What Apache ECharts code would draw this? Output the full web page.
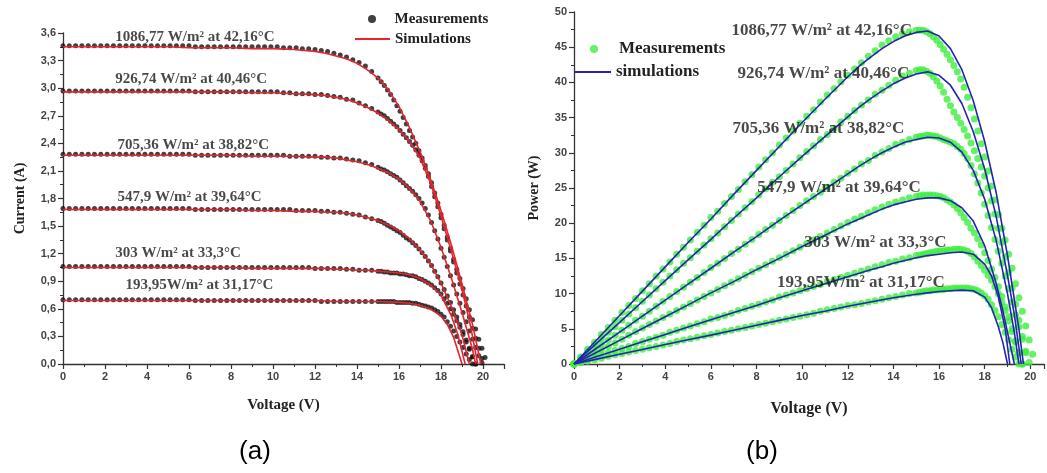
<!DOCTYPE html>
<html>
<head>
<meta charset="utf-8">
<script src="https://cdn.jsdelivr.net/npm/echarts@6/dist/echarts.min.js"></script>
<style>html,body{margin:0;padding:0;background:#fff}#c{width:1047px;height:473px}</style>
</head>
<body>
<div id="c"></div>
<script>
// ---------------- DATA ----------------
// Measurement voltage grid (V), shared by all measured curves
const VOLTAGE = [
  0,0.3,0.6,0.9,1.2,1.5,1.8,2.1,2.4,2.7,
  3,3.3,3.6,3.9,4.2,4.5,4.8,5.1,5.4,5.7,
  6,6.3,6.6,6.9,7.2,7.5,7.8,8.1,8.4,8.7,
  9,9.3,9.6,9.9,10.2,10.5,10.8,11.1,11.4,11.7,
  12,12.3,12.6,12.9,13.2,13.5,13.8,14.1,14.4,14.7,
  15,15.15,15.3,15.45,15.6,15.75,15.9,16.05,16.2,16.35,
  16.5,16.65,16.8,16.95,17.1,17.25,17.4,17.55,17.7,17.85,
  18,18.15,18.3,18.45,18.6,18.75,18.9,19.05,19.2,19.35,
  19.5,19.65,19.8,19.95,20.1,20.25
];

const CURVE_NAMES = [
  '1086,77 W/m² at 42,16°C',
  '926,74 W/m² at 40,46°C',
  '705,36 W/m² at 38,82°C',
  '547,9 W/m² at 39,64°C',
  '303 W/m² at 33,3°C',
  '193,95W/m² at 31,17°C'
];

// (a) measured current (A) on the VOLTAGE grid
const I_MEAS_1086 = [
  3.46,3.46,3.46,3.46,3.46,3.46,3.46,3.46,3.46,3.46,
  3.46,3.46,3.46,3.46,3.46,3.46,3.46,3.46,3.46,3.46,
  3.46,3.45,3.45,3.45,3.45,3.45,3.45,3.45,3.45,3.45,
  3.45,3.45,3.45,3.45,3.45,3.44,3.44,3.44,3.43,3.43,
  3.42,3.41,3.40,3.38,3.36,3.34,3.31,3.28,3.24,3.18,
  3.11,3.07,3.03,2.98,2.93,2.87,2.81,2.75,2.68,2.61,
  2.54,2.47,2.40,2.32,2.24,2.16,2.07,1.97,1.86,1.75,
  1.63,1.51,1.38,1.26,1.14,1.03,0.93,0.82,0.71,0.59,
  0.48,0.38,0.27,0.17,0.07
];
const I_MEAS_926 = [
  2.97,2.97,2.97,2.97,2.97,2.97,2.97,2.97,2.97,2.97,
  2.97,2.97,2.97,2.97,2.97,2.97,2.97,2.97,2.97,2.97,
  2.97,2.96,2.96,2.96,2.96,2.96,2.96,2.96,2.96,2.96,
  2.96,2.96,2.96,2.96,2.96,2.95,2.95,2.94,2.94,2.94,
  2.93,2.93,2.92,2.91,2.90,2.88,2.87,2.84,2.81,2.78,
  2.74,2.72,2.70,2.67,2.64,2.61,2.58,2.54,2.50,2.46,
  2.42,2.38,2.33,2.27,2.21,2.13,2.04,1.93,1.82,1.71,
  1.59,1.47,1.35,1.23,1.11,0.99,0.87,0.75,0.63,0.51,
  0.39,0.28,0.17,0.06
];
const I_MEAS_705 = [
  2.28,2.28,2.28,2.28,2.28,2.28,2.28,2.28,2.28,2.28,
  2.28,2.28,2.28,2.28,2.28,2.28,2.28,2.28,2.28,2.28,
  2.28,2.27,2.27,2.27,2.27,2.27,2.27,2.27,2.27,2.27,
  2.27,2.27,2.27,2.27,2.27,2.27,2.26,2.26,2.26,2.26,
  2.26,2.25,2.25,2.24,2.24,2.23,2.22,2.21,2.19,2.17,
  2.14,2.12,2.11,2.09,2.07,2.05,2.03,2.00,1.97,1.94,
  1.91,1.88,1.84,1.80,1.75,1.69,1.62,1.54,1.45,1.36,
  1.26,1.16,1.06,0.96,0.86,0.76,0.66,0.56,0.46,0.36,
  0.27,0.18,0.09,0.01
];
const I_MEAS_548 = [
  1.69,1.69,1.69,1.69,1.69,1.69,1.69,1.69,1.69,1.69,
  1.69,1.69,1.69,1.69,1.69,1.69,1.69,1.69,1.69,1.69,
  1.69,1.68,1.68,1.68,1.68,1.68,1.68,1.68,1.68,1.68,
  1.68,1.68,1.68,1.68,1.68,1.68,1.68,1.67,1.67,1.67,
  1.67,1.66,1.66,1.65,1.65,1.64,1.63,1.62,1.60,1.58,
  1.56,1.55,1.53,1.51,1.49,1.47,1.45,1.43,1.40,1.37,
  1.35,1.32,1.29,1.25,1.21,1.17,1.12,1.07,1.01,0.95,
  0.88,0.81,0.74,0.67,0.59,0.51,0.43,0.35,0.26,0.17,
  0.08,0
];
const I_MEAS_303 = [
  1.06,1.06,1.06,1.06,1.06,1.06,1.06,1.06,1.06,1.06,
  1.06,1.06,1.06,1.06,1.06,1.06,1.06,1.06,1.06,1.06,
  1.06,1.05,1.05,1.05,1.05,1.05,1.05,1.05,1.05,1.05,
  1.05,1.05,1.05,1.05,1.05,1.05,1.05,1.05,1.05,1.05,
  1.04,1.04,1.04,1.04,1.04,1.03,1.03,1.02,1.02,1.02,
  1.01,1.01,1.00,1.00,0.99,0.99,0.99,0.98,0.98,0.97,
  0.96,0.96,0.95,0.93,0.92,0.90,0.88,0.86,0.83,0.80,
  0.76,0.71,0.66,0.60,0.54,0.47,0.40,0.32,0.24,0.16,
  0.08,0
];
const I_MEAS_194 = [
  0.70,0.70,0.70,0.70,0.70,0.70,0.70,0.70,0.70,0.70,
  0.70,0.70,0.70,0.70,0.70,0.70,0.70,0.70,0.70,0.70,
  0.70,0.69,0.69,0.69,0.69,0.69,0.69,0.69,0.69,0.69,
  0.69,0.69,0.69,0.69,0.69,0.69,0.69,0.69,0.69,0.69,
  0.69,0.68,0.68,0.68,0.68,0.68,0.68,0.68,0.68,0.68,
  0.68,0.68,0.68,0.68,0.68,0.68,0.67,0.67,0.67,0.67,
  0.67,0.66,0.66,0.65,0.64,0.63,0.62,0.61,0.59,0.57,
  0.54,0.51,0.46,0.41,0.36,0.30,0.24,0.18,0.11,0.05,
  0
];

// (a) simulated I-V curves: [V, I]
const I_SIM_1086 = [[0,3.45],[1,3.45],[2,3.45],[3,3.45],[4,3.45],[5,3.45],[6,3.44],[7,3.44],[8,3.44],[9,3.43],[10,3.43],[11,3.42],[12,3.40],[12.5,3.38],[13,3.35],[13.5,3.32],[14,3.27],[14.5,3.20],[15,3.11],[15.5,2.98],[16,2.80],[16.5,2.57],[17,2.31],[17.5,2.01],[18,1.67],[18.5,1.29],[19,0.87],[19.5,0.43],[19.9,0]];
const I_SIM_926  = [[0,2.96],[1,2.96],[2,2.96],[3,2.96],[4,2.96],[5,2.96],[6,2.96],[7,2.96],[8,2.96],[9,2.95],[10,2.95],[11,2.94],[12,2.93],[12.5,2.92],[13,2.90],[13.5,2.88],[14,2.84],[14.5,2.79],[15,2.73],[15.5,2.65],[16,2.55],[16.5,2.42],[17,2.24],[17.5,1.97],[18,1.61],[18.5,1.22],[19,0.81],[19.4,0.42],[19.75,0]];
const I_SIM_705  = [[0,2.27],[1,2.27],[2,2.27],[3,2.27],[4,2.27],[5,2.27],[6,2.27],[7,2.27],[8,2.27],[9,2.26],[10,2.26],[11,2.26],[12,2.25],[12.5,2.25],[13,2.24],[13.5,2.22],[14,2.20],[14.5,2.17],[15,2.13],[15.5,2.08],[16,2.01],[16.5,1.91],[17,1.77],[17.5,1.56],[18,1.27],[18.5,0.93],[19,0.56],[19.5,0.16],[19.65,0]];
const I_SIM_548  = [[0,1.68],[1,1.68],[2,1.68],[3,1.68],[4,1.68],[5,1.68],[6,1.68],[7,1.68],[8,1.68],[9,1.67],[10,1.67],[11,1.66],[12,1.66],[12.5,1.65],[13,1.65],[13.5,1.64],[14,1.62],[14.5,1.59],[15,1.56],[15.5,1.51],[16,1.45],[16.5,1.36],[17,1.24],[17.5,1.09],[18,0.88],[18.5,0.62],[19,0.32],[19.35,0]];
const I_SIM_303  = [[0,1.05],[1,1.05],[2,1.05],[3,1.05],[4,1.05],[5,1.05],[6,1.05],[7,1.05],[8,1.05],[9,1.04],[10,1.04],[11,1.04],[12,1.04],[12.5,1.04],[13,1.03],[13.5,1.03],[14,1.02],[14.5,1.02],[15,1.01],[15.5,1.00],[16,0.99],[16.5,0.97],[17,0.93],[17.5,0.86],[18,0.75],[18.5,0.52],[18.8,0.32],[19.15,0]];
const I_SIM_194  = [[0,0.69],[1,0.69],[2,0.69],[3,0.69],[4,0.69],[5,0.69],[6,0.69],[7,0.69],[8,0.69],[9,0.69],[10,0.69],[11,0.69],[12,0.69],[13,0.68],[14,0.68],[15,0.68],[16,0.67],[16.5,0.66],[17,0.64],[17.5,0.60],[18,0.52],[18.3,0.43],[18.6,0.29],[19,0]];

// (b) measured power (W) on the VOLTAGE grid
const P_MEAS_1086 = [
  0,1.0,2.1,3.1,4.2,5.2,6.2,7.3,8.3,9.3,
  10.4,11.4,12.5,13.5,14.5,15.6,16.6,17.6,18.7,19.7,
  20.8,21.7,22.8,23.8,24.8,25.9,26.9,28.0,29.0,30.0,
  31.1,32.1,33.1,34.2,35.2,36.1,37.2,38.2,39.1,40.1,
  41.0,41.9,42.8,43.7,44.5,45.3,45.9,46.5,46.9,47.2,
  47.4,47.4,47.4,47.2,46.9,46.5,46.0,45.4,44.7,44.0,
  43.2,42.4,41.5,40.5,39.3,37.9,36.4,34.8,33.1,31.3,
  29.4,27.4,25.3,23.3,21.2,19.3,17.6,15.6,13.6,11.4,
  9.4,7.5,5.4,3.4,1.4
];
const P_MEAS_926 = [
  0,0.9,1.8,2.7,3.6,4.5,5.3,6.2,7.1,8.0,
  8.9,9.8,10.7,11.6,12.5,13.4,14.3,15.1,16.0,16.9,
  17.8,18.6,19.5,20.4,21.3,22.2,23.1,24.0,24.9,25.8,
  26.6,27.5,28.4,29.3,30.2,31.0,31.9,32.6,33.5,34.4,
  35.2,36.0,36.8,37.5,38.3,38.9,39.6,40.3,40.9,41.3,
  41.7,41.8,41.8,41.6,41.3,40.8,40.2,39.5,38.6,37.6,
  36.7,35.8,35.0,34.2,33.3,32.4,31.4,30.3,29.2,28.0,
  26.7,25.0,23.2,21.3,19.3,17.3,15.2,13.0,10.8,8.5,
  6.2,3.9,1.6
];
const P_MEAS_705 = [
  0,0.7,1.4,2.1,2.7,3.4,4.1,4.8,5.5,6.2,
  6.8,7.5,8.2,8.9,9.6,10.3,10.9,11.6,12.3,13.0,
  13.7,14.3,15.0,15.7,16.3,17.0,17.7,18.4,19.1,19.7,
  20.4,21.1,21.8,22.5,23.2,23.8,24.4,25.1,25.8,26.4,
  27.1,27.7,28.4,28.9,29.6,30.1,30.6,31.2,31.5,31.9,
  32.2,32.3,32.4,32.5,32.5,32.4,32.3,32.1,31.9,31.7,
  31.5,31.3,30.9,30.5,29.9,29.2,28.2,27.0,25.7,24.3,
  22.7,21.1,19.4,17.7,16.0,14.3,12.5,10.7,8.8,7.0,
  5.3,3.5,1.8,0.2
];
const P_MEAS_548 = [
  0,0.5,1.0,1.5,2.0,2.5,3.0,3.5,4.1,4.6,
  5.1,5.6,6.1,6.6,7.1,7.6,8.1,8.6,9.1,9.6,
  10.1,10.6,11.1,11.6,12.1,12.6,13.1,13.6,14.1,14.6,
  15.1,15.6,16.1,16.6,17.1,17.6,18.1,18.6,19.1,19.6,
  20.1,20.6,21.0,21.5,21.9,22.3,22.7,23.0,23.3,23.6,
  23.8,23.9,24.0,24.0,24.0,24.0,23.9,23.8,23.6,23.3,
  23.0,22.6,22.1,21.5,20.8,20.1,19.3,18.6,17.8,16.9,
  15.8,14.7,13.5,12.3,11.0,9.6,8.1,6.7,5.0,3.3,
  1.6,0
];
const P_MEAS_303 = [
  0,0.3,0.6,1.0,1.3,1.6,1.9,2.2,2.5,2.9,
  3.2,3.5,3.8,4.1,4.5,4.8,5.1,5.4,5.7,6.0,
  6.4,6.6,6.9,7.2,7.6,7.9,8.2,8.5,8.8,9.1,
  9.5,9.8,10.1,10.4,10.7,11.0,11.3,11.7,12.0,12.3,
  12.6,12.9,13.2,13.5,13.8,14.1,14.4,14.6,14.9,15.1,
  15.4,15.5,15.6,15.7,15.8,15.9,16.0,16.1,16.1,16.2,
  16.2,16.3,16.3,16.3,16.2,16.0,15.7,15.2,14.6,14.0,
  13.3,12.6,11.9,11.0,10.0,8.8,7.6,6.1,4.6,3.1,
  1.6,0
];
const P_MEAS_194 = [
  0,0.2,0.4,0.6,0.8,1.1,1.3,1.5,1.7,1.9,
  2.1,2.3,2.5,2.7,2.9,3.2,3.4,3.6,3.8,4.0,
  4.2,4.4,4.6,4.8,5.0,5.2,5.4,5.6,5.8,6.0,
  6.2,6.4,6.6,6.8,7.0,7.2,7.5,7.7,7.9,8.1,
  8.3,8.4,8.6,8.8,9.0,9.2,9.4,9.6,9.8,10.0,
  10.1,10.2,10.3,10.4,10.4,10.5,10.5,10.6,10.6,10.7,
  10.7,10.8,10.8,10.8,10.8,10.8,10.7,10.6,10.4,10.1,
  9.7,9.2,8.4,7.6,6.7,5.6,4.5,3.4,2.1,1.0,
  0
];

// (b) simulated P-V curves: [V, P]
const P_SIM_1086 = [[0,0],[1,3.45],[2,6.9],[3,10.35],[4,13.8],[5,17.25],[6,20.6],[7,24.1],[8,27.5],[9,30.9],[10,34.3],[11,37.6],[12,40.8],[12.5,42.3],[13,43.6],[13.5,44.8],[14,45.8],[14.5,46.6],[15,47.1],[15.5,47.3],[16,46.6],[16.5,44.8],[17,41.8],[17.5,37.4],[18,31.6],[18.5,24.4],[19,15.4],[19.5,5.0],[19.7,0]];
const P_SIM_926  = [[0,0],[1,2.96],[2,5.92],[3,8.88],[4,11.84],[5,14.8],[6,17.7],[7,20.7],[8,23.6],[9,26.6],[10,29.5],[11,32.3],[12,35.1],[12.5,36.5],[13,37.7],[13.5,38.8],[14,39.8],[14.5,40.6],[15,41.2],[15.5,41.5],[16,41.0],[16.5,39.6],[17,37.0],[17.5,33.0],[18,27.7],[18.5,21.0],[19,12.6],[19.3,7.0],[19.6,0]];
const P_SIM_705  = [[0,0],[1,2.27],[2,4.54],[3,6.81],[4,9.08],[5,11.35],[6,13.6],[7,15.9],[8,18.1],[9,20.4],[10,22.6],[11,24.8],[12,27.0],[12.5,28.1],[13,29.1],[13.5,30.0],[14,30.8],[14.5,31.5],[15,31.9],[15.5,32.2],[16,32.1],[16.5,31.5],[17,30.1],[17.5,27.5],[18,23.4],[18.5,17.6],[19,10.0],[19.3,4.5],[19.5,0]];
const P_SIM_548  = [[0,0],[1,1.68],[2,3.36],[3,5.04],[4,6.72],[5,8.4],[6,10.1],[7,11.7],[8,13.4],[9,15.0],[10,16.7],[11,18.3],[12,19.9],[12.5,20.6],[13,21.3],[13.5,22.0],[14,22.6],[14.5,23.0],[15,23.4],[15.5,23.6],[16,23.6],[16.5,23.2],[17,22.2],[17.5,20.3],[18,16.8],[18.5,11.5],[18.8,7.5],[19.1,3.0],[19.3,0]];
const P_SIM_303  = [[0,0],[1,1.05],[2,2.1],[3,3.15],[4,4.2],[5,5.25],[6,6.3],[7,7.3],[8,8.3],[9,9.4],[10,10.4],[11,11.4],[12,12.4],[13,13.4],[13.5,13.8],[14,14.3],[14.5,14.7],[15,15.1],[15.5,15.4],[16,15.6],[16.5,15.8],[17,15.9],[17.5,15.6],[18,14.2],[18.3,12.5],[18.6,9.5],[18.9,5.0],[19.1,0]];
const P_SIM_194  = [[0,0],[1,0.69],[2,1.38],[3,2.07],[4,2.76],[5,3.45],[6,4.1],[7,4.8],[8,5.5],[9,6.2],[10,6.9],[11,7.5],[12,8.2],[13,8.8],[14,9.4],[15,9.9],[15.5,10.1],[16,10.3],[16.5,10.4],[17,10.5],[17.5,10.4],[18,9.5],[18.3,8.0],[18.6,5.3],[18.8,3.0],[19.0,0]];

// ---------------- LAYOUT / STYLE ----------------
const I_MEAS = [I_MEAS_1086, I_MEAS_926, I_MEAS_705, I_MEAS_548, I_MEAS_303, I_MEAS_194];
const I_SIM  = [I_SIM_1086, I_SIM_926, I_SIM_705, I_SIM_548, I_SIM_303, I_SIM_194];
const P_MEAS = [P_MEAS_1086, P_MEAS_926, P_MEAS_705, P_MEAS_548, P_MEAS_303, P_MEAS_194];
const P_SIM  = [P_SIM_1086, P_SIM_926, P_SIM_705, P_SIM_548, P_SIM_303, P_SIM_194];

// annotation anchors (data coordinates of the text's left edge)
const LAYOUT = {
  anchorsA: [[2.49,3.555],[2.49,3.097],[2.59,2.377],[2.59,1.81],[2.49,1.21],[2.97,0.861]],
  anchorsB: [[6.9,47.3],[7.16,41.3],[6.94,33.5],[8.03,25.0],[10.09,17.3],[8.9,11.6]]
};

const SERIF = '"Liberation Serif","Times New Roman",serif';
const SANS = '"Liberation Sans",Arial,sans-serif';
const RED = '#e8242e', BLUE = '#2424b4', GREEN = '#3ded3d', BLACK = '#111';

const chart = echarts.init(document.getElementById('c'), null, {renderer: 'canvas'});

const series = [];
I_MEAS.forEach(arr => series.push({
  type: 'scatter', name: 'Measurements', xAxisIndex: 0, yAxisIndex: 0,
  data: arr.map((v, i) => [VOLTAGE[i], v]),
  symbolSize: 5, itemStyle: {color: BLACK}, z: 2, silent: true
}));
I_SIM.forEach(arr => series.push({
  type: 'line', name: 'Simulations', xAxisIndex: 0, yAxisIndex: 0,
  data: arr, smooth: false, symbol: 'none', showSymbol: false,
  lineStyle: {color: RED, width: 1.6}, itemStyle: {color: RED}, z: 3, silent: true
}));
P_MEAS.forEach(arr => series.push({
  type: 'scatter', name: 'Measurements (b)', xAxisIndex: 1, yAxisIndex: 1,
  data: arr.map((v, i) => [VOLTAGE[i], v]),
  symbolSize: 7, itemStyle: {color: GREEN}, z: 2, silent: true
}));
P_SIM.forEach(arr => series.push({
  type: 'line', name: 'simulations', xAxisIndex: 1, yAxisIndex: 1,
  data: arr, smooth: false, symbol: 'none', showSymbol: false,
  lineStyle: {color: BLUE, width: 1.6}, itemStyle: {color: BLUE}, z: 3, silent: true
}));
// curve annotations
[['anchorsA', 0, 15], ['anchorsB', 1, 17]].forEach(([key, idx, fs]) => series.push({
  type: 'scatter', name: 'labels' + idx, xAxisIndex: idx, yAxisIndex: idx,
  data: LAYOUT[key], symbolSize: 0.1, itemStyle: {color: 'transparent'}, z: 10, silent: true,
  label: {show: true, position: 'right', distance: 0,
    formatter: p => CURVE_NAMES[p.dataIndex],
    fontFamily: SERIF, fontWeight: 'bold', fontSize: fs, color: '#1a1a1a'}
}));

const axisCommon = {
  axisLine: {show: true, onZero: false, lineStyle: {color: '#333', width: 1.3}},
  axisTick: {show: true, inside: false, length: 5, lineStyle: {color: '#333', width: 1.2}},
  minorTick: {show: true, splitNumber: 2, length: 3, lineStyle: {color: '#333', width: 1}},
  splitLine: {show: false},
  axisLabel: {color: '#444', fontFamily: SANS, fontWeight: 'bold', fontSize: 11, margin: 7},
  nameLocation: 'middle',
  nameTextStyle: {fontFamily: SERIF, fontWeight: 'bold', color: '#222'}
};
const xFmt = v => (v > 20.001 ? '' : String(v));

function legendItem(name, icon, left, top, w, h, fs) {
  return {data: [{name: name, icon: icon}], formatter: n => n.replace(' (b)', ''),
    orient: 'vertical', left: left, top: top, itemWidth: w, itemHeight: h,
    selectedMode: false,
    textStyle: {fontFamily: SERIF, fontWeight: 'bold', fontSize: fs, color: '#222', lineHeight: 18}};
}

const option = {
  animation: false,
  backgroundColor: '#fff',
  grid: [
    {left: 63, top: 33, width: 441, height: 331, containLabel: false},
    {left: 574, top: 12, width: 472, height: 352, containLabel: false}
  ],
  xAxis: [
    Object.assign({}, axisCommon, {type: 'value', gridIndex: 0, min: 0, max: 21, interval: 2,
      name: 'Voltage (V)', nameGap: 34,
      nameTextStyle: Object.assign({}, axisCommon.nameTextStyle, {fontSize: 15}),
      axisLabel: Object.assign({}, axisCommon.axisLabel, {formatter: xFmt})}),
    Object.assign({}, axisCommon, {type: 'value', gridIndex: 1, min: 0, max: 20.6, interval: 2,
      name: 'Voltage (V)', nameGap: 37,
      nameTextStyle: Object.assign({}, axisCommon.nameTextStyle, {fontSize: 16}),
      axisLabel: Object.assign({}, axisCommon.axisLabel, {formatter: xFmt})})
  ],
  yAxis: [
    Object.assign({}, axisCommon, {type: 'value', gridIndex: 0, min: 0, max: 3.6, interval: 0.3,
      name: 'Current (A)', nameGap: 36,
      nameTextStyle: Object.assign({}, axisCommon.nameTextStyle, {fontSize: 14}),
      axisLabel: Object.assign({}, axisCommon.axisLabel, {formatter: v => v.toFixed(1).replace('.', ',')})}),
    Object.assign({}, axisCommon, {type: 'value', gridIndex: 1, min: 0, max: 50, interval: 5,
      name: 'Power (W)', nameGap: 33,
      nameTextStyle: Object.assign({}, axisCommon.nameTextStyle, {fontSize: 14})})
  ],
  legend: [
    legendItem('Measurements', 'circle', 363, 5, 35, 8, 15),
    legendItem('Simulations', 'rect', 350, 25, 35, 2, 15),
    legendItem('Measurements (b)', 'circle', 585, 35, 40, 8, 17),
    legendItem('simulations', 'rect', 570, 58, 36, 2, 17)
  ],
  graphic: [
    {type: 'text', x: 255, y: 452, silent: true,
     style: {text: '(a)', fontFamily: SANS, fontSize: 26, fill: '#000', align: 'center', verticalAlign: 'middle'}},
    {type: 'text', x: 762, y: 452, silent: true,
     style: {text: '(b)', fontFamily: SANS, fontSize: 26, fill: '#000', align: 'center', verticalAlign: 'middle'}}
  ],
  series: series
};
chart.setOption(option);
</script>
</body>
</html>
